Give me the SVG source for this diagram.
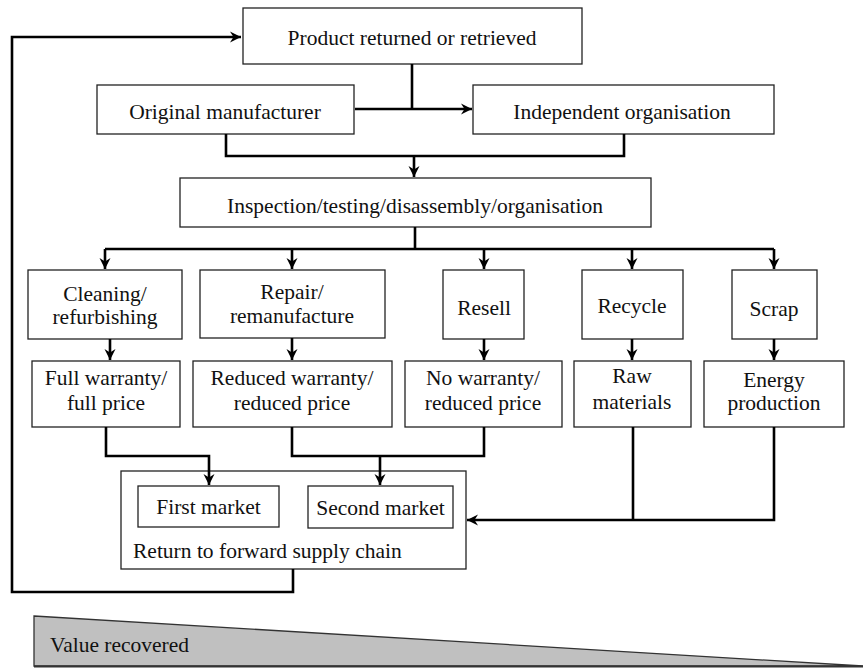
<svg xmlns="http://www.w3.org/2000/svg" width="863" height="668" viewBox="0 0 863 668">
<style>
.box{fill:#fff;stroke:#222;stroke-width:1.3}
.t{font-family:"Liberation Serif","Times New Roman",serif;font-size:21.5px;fill:#111;text-anchor:middle}
.tl{text-anchor:start}
.c{fill:none;stroke:#000;stroke-width:2.6}
.a{marker-end:url(#arr)}
</style>
<defs>
<marker id="arr" markerUnits="userSpaceOnUse" viewBox="0 0 12 12" markerWidth="12" markerHeight="13" refX="11" refY="6" orient="auto">
<path d="M0,0.5 L11,6 L0,11.5 L3.5,6 z" fill="#000"/>
</marker>
</defs>
<rect width="863" height="668" fill="#fff"/>

<g id="value-recovered">
<polygon points="34,616 863,666 34,666" fill="#c0c0c0" stroke="#333" stroke-width="1.3"/>
<line x1="34" y1="666.5" x2="863" y2="666.5" stroke="#333" stroke-width="2"/>
<text class="t tl" x="50" y="652">Value recovered</text>
</g>

<g id="product-returned">
<rect class="box" x="243" y="8" width="339" height="56"/>
<text class="t" x="412" y="45">Product returned or retrieved</text>
</g>
<g id="original-manufacturer">
<rect class="box" x="97" y="85" width="257" height="49"/>
<text class="t" x="225" y="119">Original manufacturer</text>
</g>
<g id="independent-organisation">
<rect class="box" x="473" y="85" width="301" height="49"/>
<text class="t" x="622" y="119">Independent organisation</text>
</g>
<g id="inspection">
<rect class="box" x="180" y="178" width="471" height="49"/>
<text class="t" x="415" y="213">Inspection/testing/disassembly/organisation</text>
</g>

<g id="cleaning">
<rect class="box" x="28" y="270" width="154" height="69"/>
<text class="t" x="105" y="301">Cleaning/</text>
<text class="t" x="105" y="324">refurbishing</text>
</g>
<g id="repair">
<rect class="box" x="200" y="270" width="185" height="68"/>
<text class="t" x="292" y="299">Repair/</text>
<text class="t" x="292" y="323">remanufacture</text>
</g>
<g id="resell">
<rect class="box" x="443" y="270" width="81" height="69"/>
<text class="t" x="484" y="315">Resell</text>
</g>
<g id="recycle">
<rect class="box" x="582" y="270" width="101" height="69"/>
<text class="t" x="632" y="313">Recycle</text>
</g>
<g id="scrap">
<rect class="box" x="732" y="270" width="85" height="69"/>
<text class="t" x="774" y="316">Scrap</text>
</g>

<g id="full-warranty">
<rect class="box" x="32" y="361" width="148" height="66"/>
<text class="t" x="106" y="385">Full warranty/</text>
<text class="t" x="106" y="410">full price</text>
</g>
<g id="reduced-warranty">
<rect class="box" x="193" y="361" width="199" height="66"/>
<text class="t" x="292" y="385">Reduced warranty/</text>
<text class="t" x="292" y="410">reduced price</text>
</g>
<g id="no-warranty">
<rect class="box" x="405" y="361" width="157" height="66"/>
<text class="t" x="483" y="385">No warranty/</text>
<text class="t" x="483" y="410">reduced price</text>
</g>
<g id="raw-materials">
<rect class="box" x="574" y="361" width="117" height="66"/>
<text class="t" x="632" y="383">Raw</text>
<text class="t" x="632" y="409">materials</text>
</g>
<g id="energy-production">
<rect class="box" x="704" y="361" width="140" height="66"/>
<text class="t" x="774" y="387">Energy</text>
<text class="t" x="774" y="410">production</text>
</g>

<g id="return-forward">
<rect class="box" x="121" y="471" width="345" height="98"/>
<text class="t tl" x="133" y="558">Return to forward supply chain</text>
</g>
<g id="first-market">
<rect class="box" x="138" y="486" width="141" height="41"/>
<text class="t" x="208.5" y="514">First market</text>
</g>
<g id="second-market">
<rect class="box" x="308" y="486" width="145" height="42"/>
<text class="t" x="380.5" y="515">Second market</text>
</g>

<g id="connectors">
<path class="c a" d="M293,569 V592 H12 V37 H241"/>
<path class="c" d="M412,64 V109"/>
<path class="c a" d="M355,109 H472"/>
<path class="c" d="M226,134 V156 H624 V134"/>
<path class="c a" d="M414,156 V177"/>
<path class="c" d="M415,227 V249"/>
<path class="c" d="M105,249 H774"/>
<path class="c a" d="M105,249 V269"/>
<path class="c a" d="M292,249 V269"/>
<path class="c a" d="M484,249 V269"/>
<path class="c a" d="M632,249 V269"/>
<path class="c a" d="M774,249 V269"/>
<path class="c a" d="M110,339 V360"/>
<path class="c a" d="M292,338 V360"/>
<path class="c a" d="M484,339 V360"/>
<path class="c a" d="M632,339 V360"/>
<path class="c a" d="M774,339 V360"/>
<path class="c a" d="M106,427 V456 H209 V485"/>
<path class="c" d="M292,427 V456 H484 V427"/>
<path class="c a" d="M380,456 V485"/>
<path class="c" d="M633,427 V520"/>
<path class="c a" d="M774,427 V520 H467"/>
</g>
</svg>
